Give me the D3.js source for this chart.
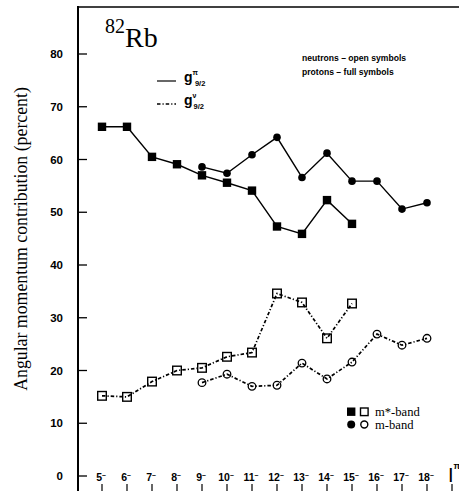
<!DOCTYPE html>
<html>
<head>
<meta charset="utf-8">
<script src="https://cdn.jsdelivr.net/npm/d3@7"></script>
<style>
  body { margin: 0; background: #fff; }
  svg { display: block; }
  .tick-label { font-family: "Liberation Sans", Arial, sans-serif; font-weight: bold; }
  .serif { font-family: "Liberation Serif", "Times New Roman", serif; }
</style>
</head>
<body>
<div id="chart"></div>
<script>
// spins I (all negative parity) on the x axis
var spins = [5, 6, 7, 8, 9, 10, 11, 12, 13, 14, 15, 16, 17, 18];
var yTicks = [0, 10, 20, 30, 40, 50, 60, 70, 80];

// protons (full symbols), g9/2 pi
var protonMStarSpins = [5, 6, 7, 8, 9, 10, 11, 12, 13, 14, 15];
var protonMStar = [66.2, 66.2, 60.5, 59.1, 57.0, 55.6, 54.1, 47.3, 45.9, 52.3, 47.8];
var protonMSpins = [9, 10, 11, 12, 13, 14, 15, 16, 17, 18];
var protonM = [58.6, 57.4, 60.9, 64.2, 56.6, 61.2, 55.9, 55.9, 50.6, 51.8];

// neutrons (open symbols), g9/2 nu
var neutronMStarSpins = [5, 6, 7, 8, 9, 10, 11, 12, 13, 14, 15];
var neutronMStar = [15.2, 15.0, 17.9, 20.0, 20.5, 22.6, 23.4, 34.6, 32.9, 26.1, 32.7];
var neutronMSpins = [9, 10, 11, 12, 13, 14, 15, 16, 17, 18];
var neutronM = [17.7, 19.3, 17.0, 17.2, 21.4, 18.4, 21.6, 26.9, 24.8, 26.1];

var svgWidth = 459;
var svgHeight = 491;

var svg = d3.select("#chart")
  .append("svg")
  .attr("width", svgWidth)
  .attr("height", svgHeight);

var axisX = 78;
var topY = 7;

// scales
var x = d3.scaleLinear().domain([5, 19]).range([102, 452]);
var y = d3.scaleLinear().domain([0, 80]).range([476, 54]);

// frame: left axis and top border
svg.append("line")
  .attr("x1", axisX).attr("x2", axisX)
  .attr("y1", topY - 1).attr("y2", svgHeight)
  .attr("stroke", "#000").attr("stroke-width", 2);
svg.append("line")
  .attr("x1", axisX - 1).attr("x2", svgWidth)
  .attr("y1", topY).attr("y2", topY)
  .attr("stroke", "#000").attr("stroke-width", 1.6);

// y ticks, pointing inward
var yTickGroup = svg.append("g");
yTickGroup.selectAll("line")
  .data(yTicks)
  .enter()
  .append("line")
  .attr("x1", axisX).attr("x2", axisX + 9)
  .attr("y1", d => y(d)).attr("y2", d => y(d))
  .attr("stroke", "#000").attr("stroke-width", 1.3);
yTickGroup.selectAll("text")
  .data(yTicks)
  .enter()
  .append("text")
  .attr("class", "tick-label")
  .attr("x", 63)
  .attr("y", d => y(d) + 4)
  .attr("text-anchor", "end")
  .attr("font-size", 11.5)
  .text(d => d);

// x ticks below, labels above them
var xTickGroup = svg.append("g");
xTickGroup.selectAll("line")
  .data(spins.concat([19]))
  .enter()
  .append("line")
  .attr("x1", d => x(d)).attr("x2", d => x(d))
  .attr("y1", 484).attr("y2", svgHeight)
  .attr("stroke", "#000").attr("stroke-width", 1.2);
var xLabels = xTickGroup.selectAll("text")
  .data(spins)
  .enter()
  .append("text")
  .attr("class", "tick-label")
  .attr("x", d => x(d) - 1)
  .attr("y", 481)
  .attr("text-anchor", "middle")
  .attr("font-size", 10.5);
xLabels.append("tspan").text(d => d);
xLabels.append("tspan").attr("dy", -4).attr("font-size", 7).text("\u2013");

// I^pi label
var ipi = svg.append("text")
  .attr("class", "tick-label")
  .attr("x", x(19) - 4)
  .attr("y", 482);
ipi.append("tspan").attr("font-size", 20).attr("font-weight", "normal").text("I");
ipi.append("tspan").attr("font-size", 9).attr("dy", -13).text("\u03C0");

// y axis title
svg.append("text")
  .attr("class", "serif")
  .attr("transform", "translate(27, 239) rotate(-90)")
  .attr("text-anchor", "middle")
  .attr("font-size", 17.8)
  .text("Angular momentum contribution (percent)");

// nucleus label
var nucleus = svg.append("text").attr("class", "serif").attr("x", 105).attr("y", 47);
nucleus.append("tspan").attr("font-size", 20).attr("dy", -14).text("82");
nucleus.append("tspan").attr("font-size", 28).attr("dy", 14).text("Rb");

// line generators
var line = d3.line().x(d => x(d[0])).y(d => y(d[1]));
var zip = (xs, ys) => xs.map((v, i) => [v, ys[i]]);

var solidStyle = { width: 1.4, dash: null };
var dashStyle = { width: 1.7, dash: "3.5,2,1.2,2" };

function drawSeries(xs, ys, style) {
  svg.append("path")
    .datum(zip(xs, ys))
    .attr("d", line)
    .attr("fill", "none")
    .attr("stroke", "#000")
    .attr("stroke-width", style.width)
    .attr("stroke-dasharray", style.dash);
}

drawSeries(protonMStarSpins, protonMStar, solidStyle);
drawSeries(protonMSpins, protonM, solidStyle);
drawSeries(neutronMStarSpins, neutronMStar, dashStyle);
drawSeries(neutronMSpins, neutronM, dashStyle);

function squares(xs, ys, open) {
  svg.append("g").selectAll("rect")
    .data(zip(xs, ys))
    .enter()
    .append("rect")
    .attr("x", d => x(d[0]) - (open ? 4.3 : 4.2))
    .attr("y", d => y(d[1]) - (open ? 4.3 : 4.2))
    .attr("width", open ? 8.6 : 8.4)
    .attr("height", open ? 8.6 : 8.4)
    .attr("fill", open ? "none" : "#000")
    .attr("stroke", "#000")
    .attr("stroke-width", open ? 1.4 : 0);
}

function circles(xs, ys, open) {
  svg.append("g").selectAll("circle")
    .data(zip(xs, ys))
    .enter()
    .append("circle")
    .attr("cx", d => x(d[0]))
    .attr("cy", d => y(d[1]))
    .attr("r", 3.8)
    .attr("fill", open ? "none" : "#000")
    .attr("stroke", "#000")
    .attr("stroke-width", open ? 1.3 : 0);
}

squares(protonMStarSpins, protonMStar, false);
circles(protonMSpins, protonM, false);
squares(neutronMStarSpins, neutronMStar, true);
circles(neutronMSpins, neutronM, true);

// legend: line styles
var lineLegend = svg.append("g").attr("class", "tick-label");
[["\u03C0", 81, solidStyle], ["\u03BD", 104, dashStyle]].forEach(function(item) {
  lineLegend.append("line")
    .attr("x1", 157).attr("x2", 176)
    .attr("y1", item[1]).attr("y2", item[1])
    .attr("stroke", "#000")
    .attr("stroke-width", item[2].width - 0.2)
    .attr("stroke-dasharray", item[2].dash);
  var g = lineLegend.append("text").attr("x", 184).attr("y", item[1] + 1);
  g.append("tspan").attr("font-size", 14).text("g");
  g.append("tspan").attr("font-size", 7).attr("dy", -7).text(item[0]);
  g.append("tspan").attr("font-size", 7.5).attr("dx", -3).attr("dy", 11).text("9/2");
});

// legend: symbol meaning
var noteText = ["neutrons \u2013 open symbols", "protons \u2013 full symbols"];
svg.append("g").selectAll("text")
  .data(noteText)
  .enter()
  .append("text")
  .attr("class", "tick-label")
  .attr("x", 302)
  .attr("y", (d, i) => 61 + i * 14)
  .attr("font-size", 8.6)
  .text(d => d);

// legend: bands
var bandLegend = svg.append("g");
bandLegend.append("rect").attr("x", 347).attr("y", 407.5).attr("width", 8.4).attr("height", 8.4).attr("fill", "#000");
bandLegend.append("rect").attr("x", 360.5).attr("y", 408).attr("width", 7.6).attr("height", 7.6)
  .attr("fill", "none").attr("stroke", "#000").attr("stroke-width", 1.4);
bandLegend.append("circle").attr("cx", 351.2).attr("cy", 424.5).attr("r", 4).attr("fill", "#000");
bandLegend.append("circle").attr("cx", 364.3).attr("cy", 424.5).attr("r", 3.5)
  .attr("fill", "none").attr("stroke", "#000").attr("stroke-width", 1.4);
bandLegend.selectAll("text")
  .data(["m*-band", "m-band"])
  .enter()
  .append("text")
  .attr("class", "serif")
  .attr("x", 375)
  .attr("y", (d, i) => 415.5 + i * 13.5)
  .attr("font-size", 12.6)
  .text(d => d);
</script>
</body>
</html>
